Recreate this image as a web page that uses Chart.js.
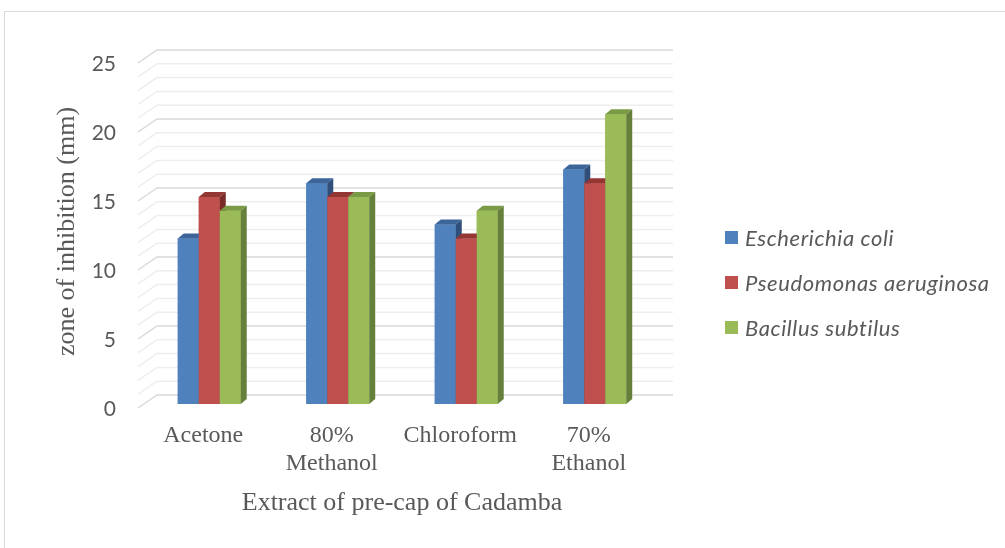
<!DOCTYPE html>
<html>
<head>
<meta charset="utf-8">
<script src="https://cdn.jsdelivr.net/npm/chart.js@4.4.0/dist/chart.umd.min.js"></script>
<style>
    html, body { margin: 0; padding: 0; background: #fff; }
    #wrap { position: relative; width: 1005px; height: 548px; overflow: hidden; }
    #frame {
        position: absolute; left: 4px; top: 11px; width: 1100px; height: 600px;
        border-left: 1.5px solid #d9d9d9; border-top: 1.5px solid #d9d9d9;
    }
    #chart { position: absolute; left: 0; top: 0; }
    #legend { position: absolute; left: 725px; top: 215px; }
    .legend-row { display: flex; align-items: center; height: 45px; }
    .legend-box { width: 13px; height: 13px; margin-right: 7px; flex-shrink: 0; }
    .legend-text { font-family: Lato, sans-serif; font-style: italic; font-size: 22px; letter-spacing: 0.6px; color: #595959; white-space: nowrap; }
</style>
</head>
<body>
<div id="wrap">
    <div id="frame"></div>
    <canvas id="chart" width="1005" height="548"></canvas>
    <div id="legend"></div>
</div>
<script>
// ==========================================
// zone of inhibition – pre-cap of Cadamba
// ==========================================

// 類別 (x 軸)
const CATEGORIES = ['Acetone', ['80%', 'Methanol'], 'Chloroform', ['70%', 'Ethanol']];

// 系列名稱
const SERIES_NAMES = ['Escherichia coli', 'Pseudomonas aeruginosa', 'Bacillus subtilus'];

// 系列數值 (mm)
const E_COLI       = [12, 16, 13, 17];
const P_AERUGINOSA = [15, 15, 12, 16];
const B_SUBTILUS   = [14, 15, 14, 21];

// y 軸
const Y_MIN  = 0;
const Y_MAX  = 25;
const Y_STEP = 5;

// 顏色 (正面 / 頂面 / 側面)
const FACE_COLORS = ['#4f81bd', '#c0504d', '#9bbb59'];
const TOP_COLORS  = ['#3d659a', '#933634', '#7a9a45'];
const SIDE_COLORS = ['#2f4f7a', '#7a2b29', '#65803a'];

const TEXT_COLOR = '#595959';
const DEPTH_X = 6;
const DEPTH_Y = 5;

// ── 3D 格線 (側牆斜線 + 後牆) ──
const wallGridPlugin = {
    id: 'wallGrid',
    beforeDatasetsDraw(chart) {
        const { ctx, chartArea, scales } = chart;
        const y = scales.y;
        ctx.save();
        for (let v = Y_MIN; v <= Y_MAX; v++) {
            const py = y.getPixelForValue(v);
            const major = v % Y_STEP === 0;
            ctx.strokeStyle = major ? '#d9d9d9' : '#eeeeee';
            ctx.lineWidth = 1.5;
            ctx.beginPath();
            ctx.moveTo(chartArea.left - 7, py + 4);
            ctx.lineTo(chartArea.left + 12, py - 9);
            ctx.lineTo(chartArea.right + 14, py - 9);
            ctx.stroke();
        }
        ctx.restore();
    }
};

// ── 3D 柱頂與側面 ──
// 依系列順序重畫正面，再補上頂面與側面，讓下一根柱子蓋住前一根的側面
const barDepthPlugin = {
    id: 'barDepth',
    afterDatasetsDraw(chart) {
        const { ctx } = chart;
        ctx.save();
        chart.data.datasets.forEach((ds, i) => {
            chart.getDatasetMeta(i).data.forEach(bar => {
                bar.draw(ctx);
                const { x, y, base, width } = bar.getProps(['x', 'y', 'base', 'width'], true);
                const l = x - width / 2;
                const r = x + width / 2;
                // 頂面
                ctx.fillStyle = TOP_COLORS[i];
                ctx.beginPath();
                ctx.moveTo(l, y);
                ctx.lineTo(l + DEPTH_X, y - DEPTH_Y);
                ctx.lineTo(r + DEPTH_X, y - DEPTH_Y);
                ctx.lineTo(r, y);
                ctx.closePath();
                ctx.fill();
                // 側面
                ctx.fillStyle = SIDE_COLORS[i];
                ctx.beginPath();
                ctx.moveTo(r, y);
                ctx.lineTo(r + DEPTH_X, y - DEPTH_Y);
                ctx.lineTo(r + DEPTH_X, base - DEPTH_Y);
                ctx.lineTo(r, base);
                ctx.closePath();
                ctx.fill();
            });
        });
        ctx.restore();
    }
};

// ── 自訂圖例 ──
function renderLegend() {
    document.getElementById('legend').innerHTML = SERIES_NAMES.map((name, i) => `
        <div class="legend-row">
            <span class="legend-box" style="background:${FACE_COLORS[i]};"></span>
            <span class="legend-text">${name}</span>
        </div>
    `).join('');
}

// ── 渲染柱狀圖 ──
function renderChart() {
    const seriesValues = [E_COLI, P_AERUGINOSA, B_SUBTILUS];

    new Chart(document.getElementById('chart').getContext('2d'), {
        type: 'bar',
        data: {
            labels: CATEGORIES,
            datasets: seriesValues.map((values, i) => ({
                label: SERIES_NAMES[i],
                data: values,
                backgroundColor: FACE_COLORS[i],
                borderWidth: 0,
                barPercentage: 1,
                categoryPercentage: 0.49
            }))
        },
        options: {
            responsive: false,
            animation: false,
            devicePixelRatio: 1,
            layout: { padding: { left: 40, right: 346, top: 59, bottom: 0 } },
            plugins: {
                legend: { display: false },
                tooltip: { enabled: false }
            },
            scales: {
                x: {
                    grid: { display: false, drawTicks: false },
                    border: { display: false },
                    ticks: {
                        color: TEXT_COLOR,
                        padding: 18,
                        labelOffset: -6,
                        maxRotation: 0,
                        font: { family: 'Liberation Serif', size: 24, lineHeight: 1.17 }
                    },
                    title: {
                        display: true,
                        text: 'Extract of pre-cap of Cadamba',
                        color: TEXT_COLOR,
                        padding: { top: 0, bottom: 29 },
                        font: { family: 'Liberation Serif', size: 26, lineHeight: 1.2 }
                    },
                    afterFit: s => { s.height = 144; }
                },
                y: {
                    min: Y_MIN,
                    max: Y_MAX,
                    grid: { display: false, drawTicks: false },
                    border: { display: false },
                    ticks: {
                        stepSize: Y_STEP,
                        color: TEXT_COLOR,
                        padding: 29,
                        labelOffset: 5,
                        font: { family: 'Lato', size: 21 }
                    },
                    title: {
                        display: true,
                        text: 'zone of inhibition (mm)',
                        color: TEXT_COLOR,
                        padding: { top: 12, bottom: 0 },
                        font: { family: 'Liberation Serif', size: 26, lineHeight: 1.2 }
                    },
                    afterFit: s => { s.width = 105; }
                }
            }
        },
        plugins: [wallGridPlugin, barDepthPlugin]
    });
}

document.addEventListener('DOMContentLoaded', () => {
    renderLegend();
    renderChart();
});
</script>
</body>
</html>
